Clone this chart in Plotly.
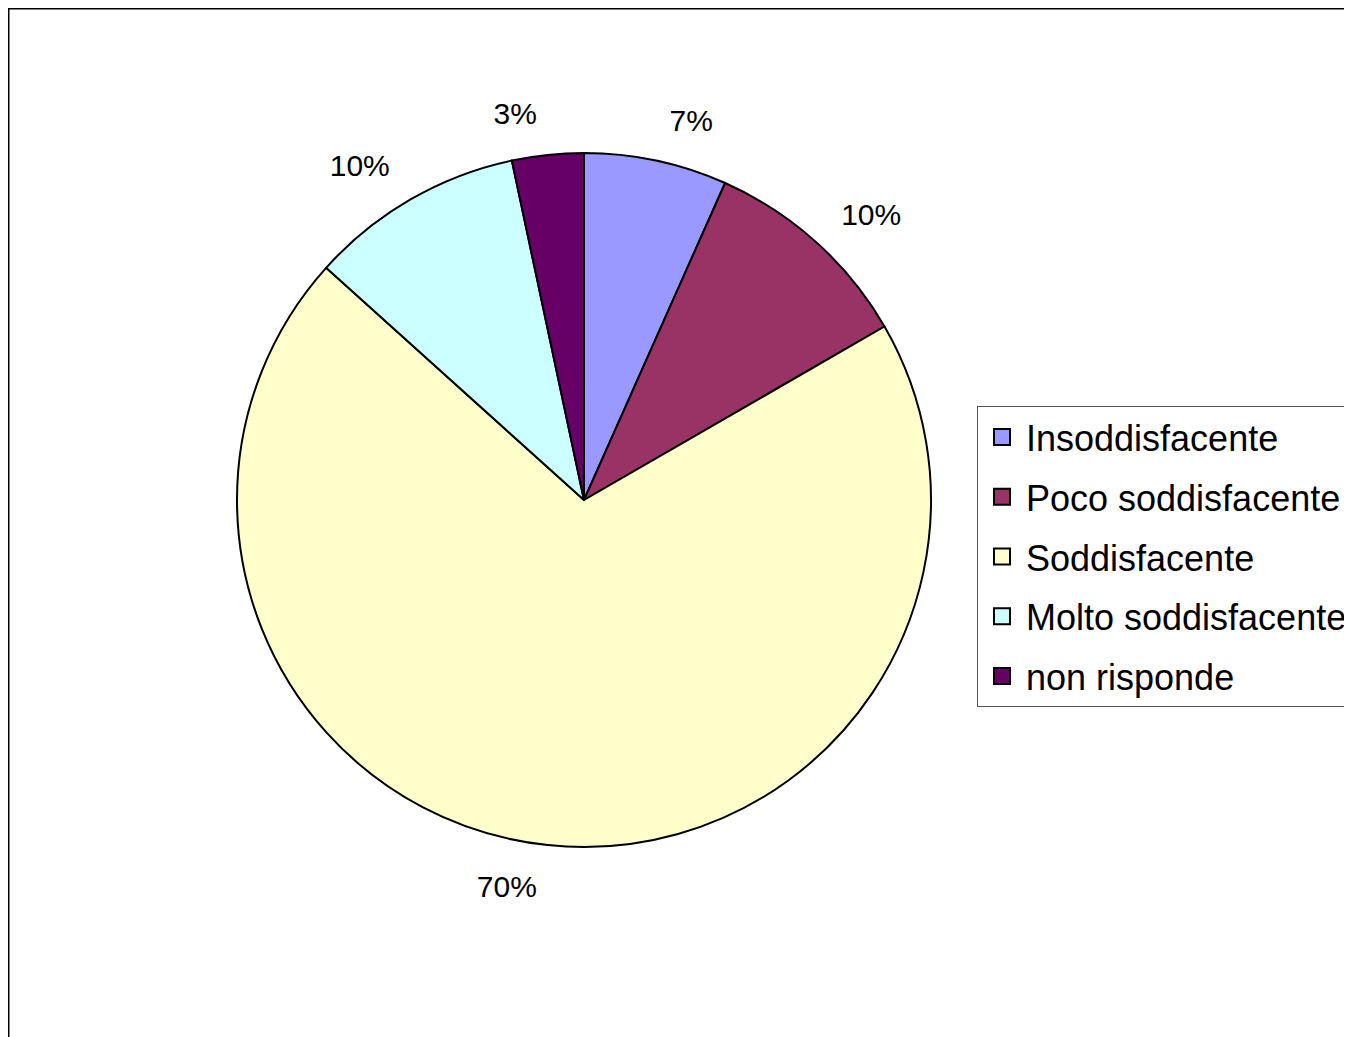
import plotly.graph_objects as go

categories = ["Insoddisfacente", "Poco soddisfacente", "Soddisfacente",
              "Molto soddisfacente", "non risponde"]
counts = [2, 3, 21, 3, 1]
colors = ["#9999FF", "#993366", "#FFFFCC", "#CCFFFF", "#660066"]

W, H = 1344, 1029
CX, CY, R = 576, 492, 347      # pie centre / radius in pixels
RL = 372                        # radius used to place the outside labels
FONT = "Liberation Sans, Arial"

fig = go.Figure()

# main pie (no text)
fig.add_trace(go.Pie(
    labels=categories, values=counts, sort=False, direction="clockwise",
    rotation=0, marker=dict(colors=colors, line=dict(color="black", width=2)),
    textinfo="none",
    domain=dict(x=[(CX - R) / W, (CX + R) / W],
                y=[(H - CY - R) / H, (H - CY + R) / H]),
    showlegend=False, hoverinfo="label+percent",
))

# transparent pie, a bit larger, carrying the percentage labels
fig.add_trace(go.Pie(
    labels=categories, values=counts, sort=False, direction="clockwise",
    rotation=0,
    marker=dict(colors=["rgba(0,0,0,0)"] * len(categories),
                line=dict(width=0)),
    textposition="outside", texttemplate="%{percent:.0%}",
    textfont=dict(family=FONT, size=30, color="black"),
    domain=dict(x=[(CX - RL) / W, (CX + RL) / W],
                y=[(H - CY - RL) / H, (H - CY + RL) / H]),
    showlegend=False, hoverinfo="skip",
))

# legend entries (one group each so spacing can match the reference)
for i, (cat, col) in enumerate(zip(categories, colors)):
    fig.add_trace(go.Scatter(
        x=[None], y=[None], mode="markers", name=cat,
        legendgroup=f"g{i}",
        marker=dict(symbol="square", size=16, color=col,
                    line=dict(color="black", width=2)),
    ))

fig.update_layout(
    width=W, height=H,
    margin=dict(l=0, r=0, t=0, b=0, autoexpand=False),
    paper_bgcolor="white", plot_bgcolor="white",
    xaxis=dict(visible=False), yaxis=dict(visible=False),
    legend=dict(
        x=969 / W, y=1 - 398 / H, xanchor="left", yanchor="top",
        font=dict(family=FONT, size=36, color="black"),
        bordercolor="#555555", borderwidth=1, bgcolor="white",
        tracegroupgap=10, itemwidth=38,
    ),
    shapes=[dict(type="rect", xref="paper", yref="paper",
                 x0=0.75 / W, x1=1.05, y0=-0.05, y1=1 - 0.75 / H,
                 line=dict(color="black", width=1.5))],
)

fig.write_html("out.html")
